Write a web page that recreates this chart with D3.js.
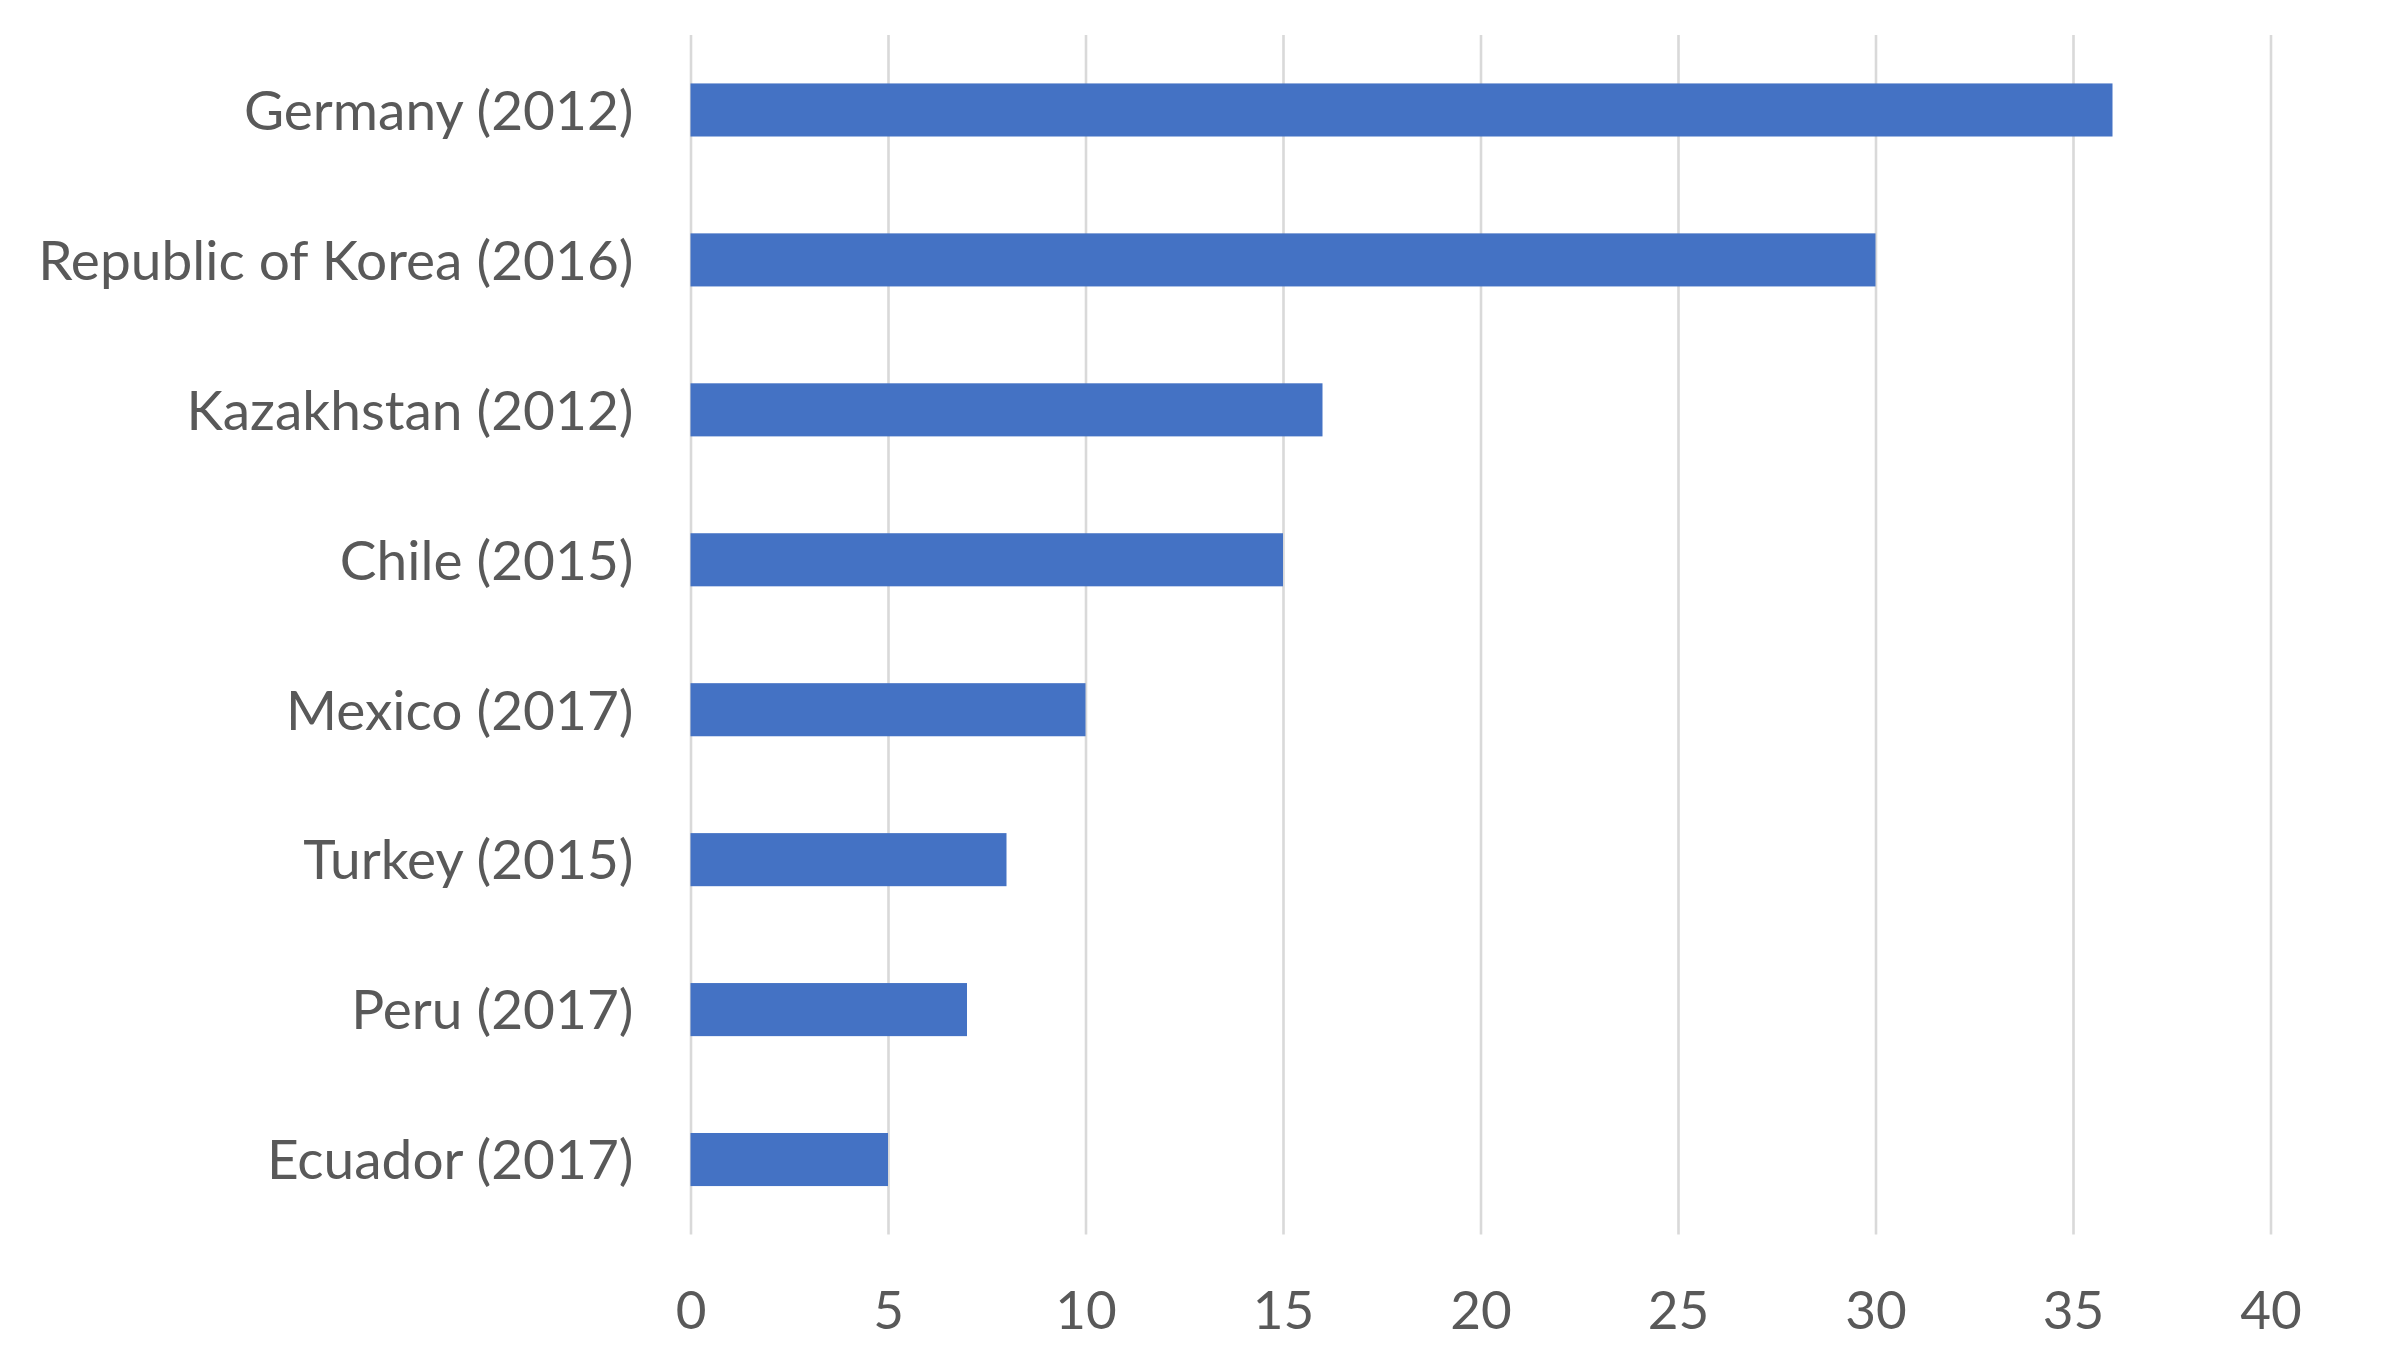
<!DOCTYPE html>
<html>
<head>
<meta charset="utf-8">
<title>bar chart</title>
<script src="https://cdn.jsdelivr.net/npm/d3@7"></script>
<style>
  body { margin: 0; background: #fff; }
  text { font-family: Lato, "Open Sans", sans-serif; fill: #595959; }
</style>
</head>
<body>
<script>
// data
var countries = ["Germany (2012)", "Republic of Korea (2016)", "Kazakhstan (2012)", "Chile (2015)",
                 "Mexico (2017)", "Turkey (2015)", "Peru (2017)", "Ecuador (2017)"]
var values = [36, 30, 16, 15, 10, 8, 7, 5]
var xTicks = [0, 5, 10, 15, 20, 25, 30, 35, 40]

var w = 2400, h = 1350
var plotLeft = 690.5, plotRight = 2270.5, plotTop = 35, plotBottom = 1234.5

var svg = d3.select("body").append("svg")
    .attr("width", w).attr("height", h)

svg.append("rect").attr("width", w).attr("height", h).attr("fill", "#fff")

var x = d3.scaleLinear().domain([0, 40]).range([plotLeft, plotRight])
var y = d3.scaleBand().domain(countries).range([plotTop, plotBottom]).paddingInner(0.646).paddingOuter(0.323)

// vertical gridlines
svg.append("g")
    .attr("transform", "translate(0," + plotBottom + ")")
    .call(d3.axisBottom(x).tickValues(xTicks).tickSize(-(plotBottom - plotTop)).tickFormat(""))
    .call(function(g) {
        g.select(".domain").remove()
        g.selectAll("line").attr("stroke", "#d9d9d9").attr("stroke-width", 2.6)
    })

// bars
svg.selectAll(".bar")
    .data(values)
    .enter()
    .append("rect")
    .attr("class", "bar")
    .attr("x", x(0))
    .attr("y", function(d, i) { return y(countries[i]) })
    .attr("width", function(d) { return x(d) - x(0) })
    .attr("height", y.bandwidth())
    .attr("fill", "#4472c4")

// tick labels
svg.append("g")
    .attr("transform", "translate(0," + plotBottom + ")")
    .call(d3.axisBottom(x).tickValues(xTicks).tickSize(0).tickPadding(0))
    .call(function(g) {
        g.select(".domain").remove()
        g.selectAll("text")
            .attr("y", 94.5).attr("dy", 0)
            .style("font-size", "53px")
            .attr("fill", "#595959")
    })

// category labels
svg.append("g")
    .attr("transform", "translate(" + plotLeft + ",0)")
    .call(d3.axisLeft(y).tickSize(0).tickPadding(57))
    .call(function(g) {
        g.select(".domain").remove()
        g.selectAll("text")
            .attr("dy", "0.36em")
            .style("font-size", "55px")
            .attr("fill", "#595959")
    })
</script>
</body>
</html>
